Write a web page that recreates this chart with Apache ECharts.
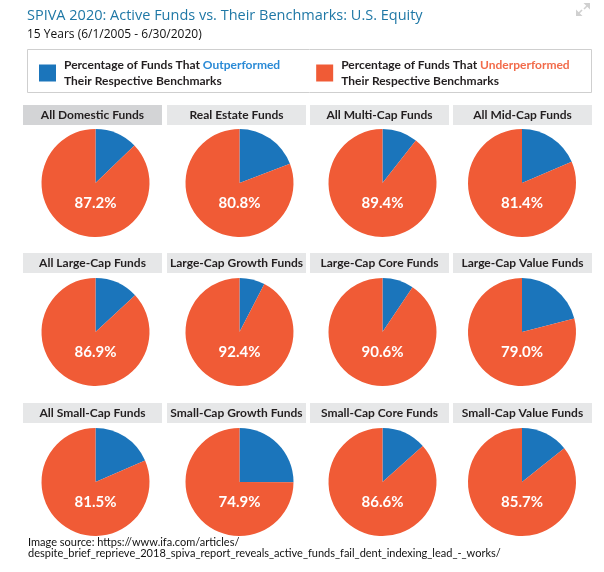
<!DOCTYPE html>
<html>
<head>
<meta charset="utf-8">
<script src="https://cdn.jsdelivr.net/npm/echarts@6/dist/echarts.min.js"></script>
<style>
html,body{margin:0;padding:0;background:#fff;}
#chart{width:604px;height:572px;}
</style>
</head>
<body>
<div id="chart"></div>
<script>
const titleText = 'SPIVA 2020: Active Funds vs. Their Benchmarks: U.S. Equity';
const subtitleText = '15 Years (6/1/2005 - 6/30/2020)';
const sourceLines = ['Image source: https://www.ifa.com/articles/',
  'despite_brief_reprieve_2018_spiva_report_reveals_active_funds_fail_dent_indexing_lead_-_works/'];
const categories = ['All Domestic Funds', 'Real Estate Funds', 'All Multi-Cap Funds', 'All Mid-Cap Funds',
  'All Large-Cap Funds', 'Large-Cap Growth Funds', 'Large-Cap Core Funds', 'Large-Cap Value Funds',
  'All Small-Cap Funds', 'Small-Cap Growth Funds', 'Small-Cap Core Funds', 'Small-Cap Value Funds'];
const outperformed = [12.8, 19.2, 10.6, 18.6, 13.1, 7.6, 9.4, 21.0, 18.5, 25.1, 13.4, 14.3];
const underperformed = [87.2, 80.8, 89.4, 81.4, 86.9, 92.4, 90.6, 79.0, 81.5, 74.9, 86.6, 85.7];
const seriesNames = ['Outperformed', 'Underperformed'];

const BLUE = '#1b75bb', ORANGE = '#f05b36';
const FONT = 'Lato';
const pieCX = [95.5, 239.5, 382.5, 522];
const pieCY = [183, 332, 482];
const hdrX = [23, 167, 310, 453];
const hdrY = [105, 253, 403];
const HW = 139, HH = 20;

const chart = echarts.init(document.getElementById('chart'), null, {renderer: 'canvas'});

const series = categories.map((cat, i) => {
  const col = i % 4, row = Math.floor(i / 4);
  return {
    type: 'pie',
    name: cat,
    center: [pieCX[col], pieCY[row]],
    radius: 54,
    startAngle: 90,
    clockwise: true,
    silent: true,
    animation: false,
    label: {show: false},
    labelLine: {show: false},
    emphasis: {disabled: true},
    data: [
      {name: seriesNames[0], value: outperformed[i], itemStyle: {color: BLUE}},
      {name: seriesNames[1], value: underperformed[i], itemStyle: {color: ORANGE},
        label: {show: true, position: 'center',
          formatter: p => '{gap|}\n{v|' + p.value.toFixed(1) + '%}',
          rich: {
            gap: {height: 40, lineHeight: 40},
            v: {color: '#fff', fontFamily: FONT, fontWeight: 'bold', fontSize: 15, lineHeight: 18}
          }}}
    ]
  };
});

const graphics = [];
// legend box
graphics.push({type: 'rect', shape: {x: 27.5, y: 49.5, width: 564, height: 43},
  style: {fill: '#fff', stroke: '#cfcfcf', lineWidth: 1}, z: -10});
// headers
categories.forEach((cat, i) => {
  const col = i % 4, row = Math.floor(i / 4);
  graphics.push({type: 'rect', shape: {x: hdrX[col], y: hdrY[row], width: HW, height: HH},
    style: {fill: i === 0 ? '#d3d4d6' : '#e6e7e8'}, z: -5});
  graphics.push({type: 'text', x: hdrX[col] + HW / 2, y: hdrY[row] + HH / 2,
    style: {text: cat, fill: '#231f20', font: 'bold 12px ' + FONT, textAlign: 'center', textVerticalAlign: 'middle'}});
});
// source
sourceLines.forEach((t, k) => {
  graphics.push({type: 'text', x: 28, y: 542 + k * 11,
    style: {text: t, fill: '#111', font: '11px ' + FONT, textAlign: 'left', textVerticalAlign: 'middle'}});
});
// expand icon
graphics.push({type: 'polygon', shape: {points: [[590, 3], [590, 9.5], [583.5, 3]]}, style: {fill: '#d0d0d0'}});
graphics.push({type: 'line', shape: {x1: 589, y1: 4, x2: 584, y2: 9}, style: {stroke: '#d0d0d0', lineWidth: 1.6}});
graphics.push({type: 'polygon', shape: {points: [[576, 16], [576, 9.5], [582.5, 16]]}, style: {fill: '#d0d0d0'}});
graphics.push({type: 'line', shape: {x1: 577, y1: 15, x2: 582, y2: 10}, style: {stroke: '#d0d0d0', lineWidth: 1.6}});

const base = {fontFamily: FONT, fontWeight: 'bold', fontSize: 12, lineHeight: 16};
const legendRich = {
  s: Object.assign({}, base, {color: '#231f20', padding: [0, 0, 0, 3]}),
  t: Object.assign({}, base, {color: '#231f20'}),
  o: Object.assign({}, base, {color: '#2a8ad6'}),
  u: Object.assign({}, base, {color: '#f26b4a'})
};

chart.setOption({
  animation: false,
  color: [BLUE, ORANGE],
  title: {
    text: titleText,
    subtext: subtitleText,
    left: 22, top: 3,
    itemGap: 6,
    textStyle: {fontFamily: 'Open Sans', fontSize: 14.5, fontWeight: 'normal', color: '#1f78a6'},
    subtextStyle: {fontFamily: 'Open Sans', fontSize: 12, color: '#111'}
  },
  legend: {
    data: seriesNames,
    left: 34, top: 54,
    icon: 'rect',
    itemWidth: 17, itemHeight: 17,
    itemGap: 36,
    selectedMode: false,
    formatter: name => name === seriesNames[0]
      ? '{s|Percentage of Funds That }{o|Outperformed}\n{s|Their Respective Benchmarks}'
      : '{s|Percentage of Funds That }{u|Underperformed}\n{s|Their Respective Benchmarks}',
    textStyle: {rich: legendRich}
  },
  graphic: graphics,
  series: series
});
</script>
</body>
</html>
